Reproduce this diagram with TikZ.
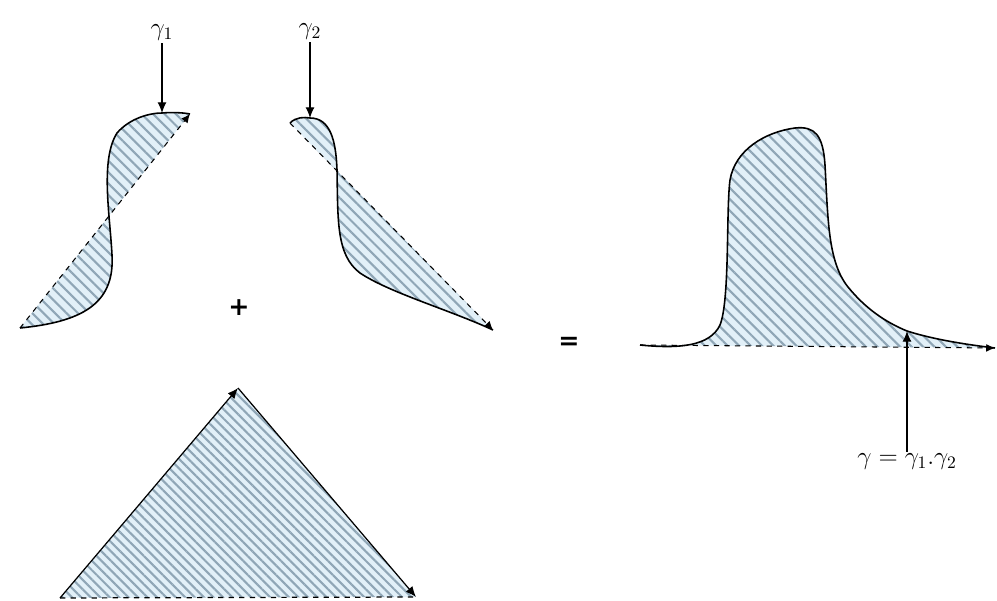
\documentclass[tikz,border=0pt]{standalone}
\usepackage{amsmath}
\usepackage{fontspec}
\newfontfamily\signfont{DejaVu Sans}
\usetikzlibrary{arrows.meta, patterns.meta, positioning}
\definecolor{hatchfill}{HTML}{E2F0F8}
\definecolor{hatchline}{HTML}{8FA6B6}

\begin{document}
\begin{tikzpicture}[
  x=0.02cm, y=-0.02cm,
  region/.style={fill=hatchfill, postaction={pattern={Lines[angle=-45, distance=#1, line width=1.2pt]}, pattern color=hatchline}},
  region/.default=4.6pt,
  curve/.style={draw=black, line width=0.9pt},
  chord/.style={dashed, line width=0.6pt, -{Latex[length=5pt, width=4.5pt]}},
  pointer/.style={line width=0.6pt, -{Latex[length=6pt, width=5pt]}},
  lbl/.style={inner sep=1pt, font=\Large},
  sign/.style={font=\signfont\Large\bfseries},
]
  \useasboundingbox (0,0) rectangle (997,601);

  % gamma 1
  \coordinate (a0) at (20,328);
  \coordinate (a1) at (190,114);
  \coordinate (atop) at (162,113);
  \path[region] (a0) .. controls (80,322) and (115,305) .. (112,255)
    .. controls (110,215) and (100,160) .. (117,133)
    .. controls (130,118) and (150,113) .. (atop)
    .. controls (175,112) and (185,113) .. (a1) -- cycle;
  \draw[curve] (a0) .. controls (80,322) and (115,305) .. (112,255)
    .. controls (110,215) and (100,160) .. (117,133)
    .. controls (130,118) and (150,113) .. (atop)
    .. controls (175,112) and (185,113) .. (a1);
  \draw[chord] (a0) -- (a1);
  \node[lbl] (g1) at (162,33) {$\gamma_1$};
  \draw[pointer] (g1) -- (atop);

  % gamma 2
  \coordinate (b0) at (290,123);
  \coordinate (b1) at (493,330);
  \coordinate (btop) at (310,118);
  \path[region] (b0) .. controls (296,117) and (304,117) .. (btop)
    .. controls (330,118) and (336,140) .. (337,170)
    .. controls (338,220) and (336,255) .. (360,273)
    .. controls (390,293) and (450,310) .. (b1) -- cycle;
  \draw[curve] (b0) .. controls (296,117) and (304,117) .. (btop)
    .. controls (330,118) and (336,140) .. (337,170)
    .. controls (338,220) and (336,255) .. (360,273)
    .. controls (390,293) and (450,310) .. (b1);
  \draw[chord] (b0) -- (b1);
  \node[lbl] (g2) at (310,32) {$\gamma_2$};
  \draw[pointer] (g2) -- (btop);

  \node[sign] (plus) at (239,308) {+};
  \node[sign] (equals) at (569,343) {=};

  % triangle
  \coordinate (t0) at (60,598);
  \coordinate (t1) at (238,388);
  \coordinate (t2) at (416,597);
  \path[region=3.8pt] (t0) -- (t1) -- (t2) -- cycle;
  \draw[line width=0.7pt, -{Latex[length=6pt, width=5pt]}] (t0) -- (t1);
  \draw[line width=0.7pt, -{Latex[length=6pt, width=5pt]}] (t1) -- (t2);
  \draw[dashed, line width=0.7pt] (t0) -- (t2);

  % gamma = gamma1 . gamma2
  \coordinate (c0) at (640,345);
  \coordinate (c1) at (995,348);
  \coordinate (ctop) at (907,331);
  \path[region] (c0) .. controls (680,349) and (710,346) .. (720,325)
    .. controls (730,300) and (726,210) .. (730,180)
    .. controls (735,150) and (765,132) .. (795,128)
    .. controls (815,126) and (823,135) .. (825,165)
    .. controls (828,220) and (828,262) .. (848,287)
    .. controls (865,308) and (885,322) .. (ctop)
    .. controls (935,340) and (970,345) .. (c1) -- cycle;
  \draw[curve] (c0) .. controls (680,349) and (710,346) .. (720,325)
    .. controls (730,300) and (726,210) .. (730,180)
    .. controls (735,150) and (765,132) .. (795,128)
    .. controls (815,126) and (823,135) .. (825,165)
    .. controls (828,220) and (828,262) .. (848,287)
    .. controls (865,308) and (885,322) .. (ctop)
    .. controls (935,340) and (970,345) .. (c1);
  \draw[chord] (c0) -- (c1);
  \node[lbl] (g) at (907,462) {$\gamma = \gamma_1.\gamma_2$};
  \draw[pointer] (g) -- (ctop);
\end{tikzpicture}
\end{document}
